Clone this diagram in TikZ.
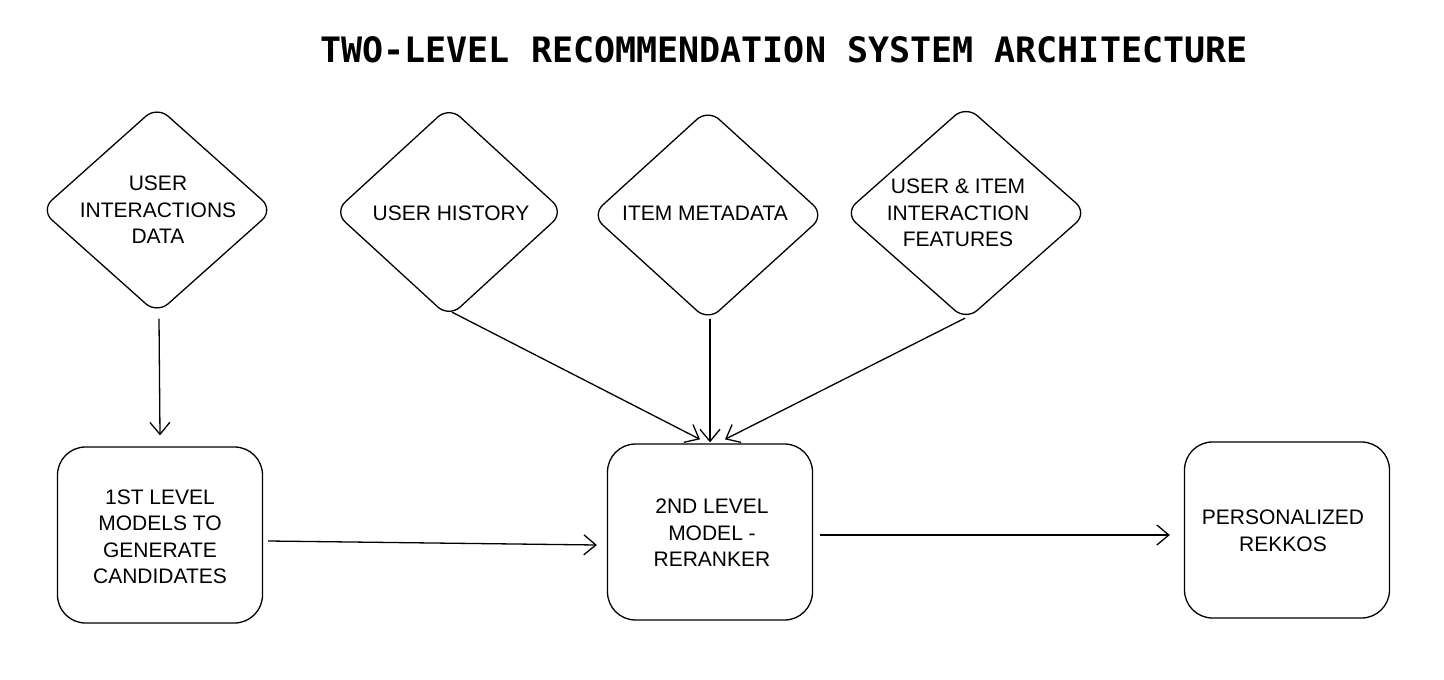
\documentclass[tikz,border=0pt]{standalone}
\usepackage{fontspec}
\setmainfont{Liberation Sans}
\newfontfamily\titlefont{DejaVu Sans Mono}
\usetikzlibrary{shapes.geometric,arrows.meta,calc}
\tikzset{
  dia/.style={diamond, draw=black, line width=1.3pt, rounded corners=15pt, inner sep=0pt, aspect=1.1},
  box/.style={rectangle, draw=black, line width=1.3pt, rounded corners=28pt, minimum width=205pt, minimum height=176pt, inner sep=0pt},
  lbl/.style={align=center, font=\fontsize{21}{26.5}\selectfont, inner sep=0pt},
  conn/.style={draw=black, line width=1.3pt, -{Straight Barb[length=12pt,width=20pt,line width=1.3pt]}},
}
\begin{document}
\begin{tikzpicture}[x=1pt,y=-1pt]
\useasboundingbox (0,0) rectangle (1444,680);
\fill[white] (0,0) rectangle (1444,680);
\node[font=\titlefont\bfseries\fontsize{35}{40}\selectfont, inner sep=0pt] (title) at (784,50) {TWO-LEVEL RECOMMENDATION SYSTEM ARCHITECTURE};
% diamonds
\node[dia, minimum width=233pt, minimum height=208pt] (d1) at (157,210) {};
\node[dia, minimum width=230pt, minimum height=211pt] (d2) at (449,212) {};
\node[dia, minimum width=233pt, minimum height=212pt] (d3) at (708,215) {};
\node[dia, minimum width=243pt, minimum height=215pt] (d4) at (966,213) {};
\node[lbl] (t1) at (158,210) {USER\\INTERACTIONS\\DATA};
\node[lbl] (t2) at (451,213) {USER HISTORY};
\node[lbl] (t3) at (705,213) {ITEM METADATA};
\node[lbl] (t4) at (958,213) {USER \& ITEM\\INTERACTION\\FEATURES};
% boxes
\node[box] (b1) at (160,535) {};
\node[box] (b2) at (710,532) {};
\node[box] (b3) at (1287,530) {};
\node[lbl] (u1) at (160,537) {1ST LEVEL\\MODELS TO\\GENERATE\\CANDIDATES};
\node[lbl] (u2) at (712,533) {2ND LEVEL\\MODEL -\\RERANKER};
\node[lbl] (u3) at (1283,531) {PERSONALIZED\\REKKOS};
% connector end points
\coordinate (d1s) at ($(d1.south)+(2,4)$);
\coordinate (b1n) at ($(b1.north)+(0,-11)$);
\coordinate (d2s) at ($(d2.south)+(3,-6)$);
\coordinate (b2a) at ($(b2.north)+(-10,-4)$);
\coordinate (d3s) at ($(d3.south)+(2,-3)$);
\coordinate (b2b) at ($(b2.north)+(0,-1)$);
\coordinate (d4s) at ($(d4.south)+(-1,-3)$);
\coordinate (b2c) at ($(b2.north)+(15,-4)$);
\coordinate (b1e) at ($(b1.east)+(5,6)$);
\coordinate (b2w) at ($(b2.west)+(-10,13)$);
\coordinate (b2e) at ($(b2.east)+(7,3)$);
\coordinate (b3w) at ($(b3.west)+(-14,5)$);
% connectors
\draw[conn] (d1s) -- (b1n);
\draw[conn] (d2s) -- (b2a);
\draw[conn] (d3s) -- (b2b);
\draw[conn] (d4s) -- (b2c);
\draw[conn] (b1e) -- (b2w);
\draw[conn] (b2e) -- (b3w);
\end{tikzpicture}
\end{document}
